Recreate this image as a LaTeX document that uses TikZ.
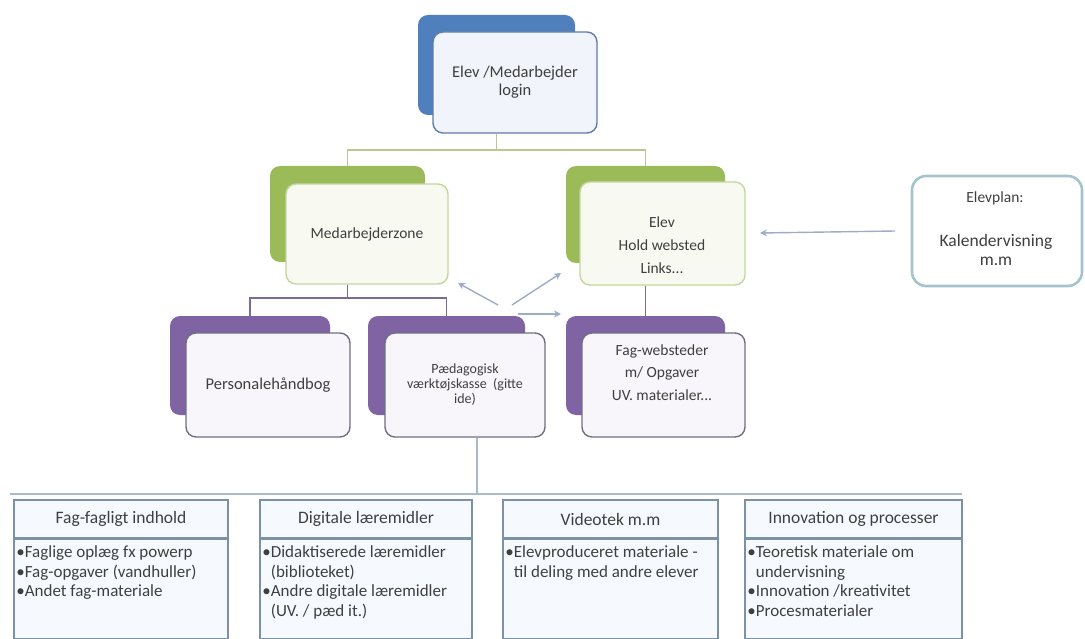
\documentclass[tikz,border=0pt]{standalone}
\usepackage{fontspec}
\setmainfont{Carlito}
\usetikzlibrary{arrows.meta}
\definecolor{txt}{HTML}{3F3F3F}
\definecolor{cblue}{HTML}{4F7FBC}
\definecolor{cgreen}{HTML}{9BBB59}
\definecolor{cpurple}{HTML}{7F63A3}
\definecolor{fblue}{HTML}{F1F4FA}
\definecolor{fgreen}{HTML}{F8FAF2}
\definecolor{fpurple}{HTML}{F9F6FB}
\definecolor{bblue}{HTML}{5E7DA8}
\definecolor{bgreen}{HTML}{C4D6A0}
\definecolor{bpurple}{HTML}{6F6F85}
\definecolor{gline}{HTML}{BBC991}
\definecolor{pline}{HTML}{7A6B98}
\definecolor{aline}{HTML}{9DADC9}
\definecolor{eplan}{HTML}{A3C4CC}
\definecolor{boxb}{HTML}{7C91A6}
\definecolor{boxf}{HTML}{F6FAFE}
\definecolor{hline}{HTML}{A9BACB}
\begin{document}
\begin{tikzpicture}[x=1pt,y=-1pt,
  bk/.style={rounded corners=10pt, inner sep=0pt},
  fr/.style={rounded corners=10pt, line width=1.4pt, inner sep=0pt, align=center, text=txt, font=\fontsize{16.5}{18}\selectfont},
  lbl/.style={align=center, text=txt, inner sep=0pt},
  gconn/.style={draw=gline, line width=1.6pt},
  pconn/.style={draw=pline, line width=1.6pt},
  arr/.style={draw=aline, line width=1.4pt, -{Stealth[length=7pt,width=7pt]}},
  hd/.style={draw=boxb, fill=boxf, line width=1.6pt, inner sep=0pt, text=txt, font=\fontsize{17.5}{18}\selectfont},
  bd/.style={draw=boxb, fill=boxf, line width=1.6pt, inner sep=0pt},
  bl/.style={align=left, text=txt, inner sep=0pt, font=\fontsize{17}{19.5}\selectfont, anchor=north west}
]
\useasboundingbox (0,0) rectangle (1085,639);
\fill[white] (0,0) rectangle (1085,639);

% top login
\node[bk, fill=cblue, minimum width=157, minimum height=100] (loginb) at (496.5,65) {};
\node[fr, draw=bblue, fill=fblue, minimum width=164, minimum height=101] (login) at (515,82.5) {Elev /Medarbejder\\login};

% green level
\node[bk, fill=cgreen, minimum width=155, minimum height=96] (medb) at (347.5,214) {};
\node[fr, draw=bgreen, fill=fgreen, minimum width=162, minimum height=100, font=\fontsize{15.5}{18}\selectfont] (med) at (367,234) {Medarbejderzone};
\node[bk, fill=cgreen, minimum width=159, minimum height=97] (elevb) at (645.5,214.5) {};
\node[fr, draw=bgreen, fill=fgreen, minimum width=165, minimum height=103] (elev) at (662.5,233.5) {};
\node[lbl, font=\fontsize{15.5}{23}\selectfont] (elevt) at (662,245) {Elev\\Hold websted\\Links...};

% purple level
\node[bk, fill=cpurple, minimum width=160, minimum height=99] (persb) at (250,365.5) {};
\node[fr, draw=bpurple, fill=fpurple, minimum width=164, minimum height=104] (pers) at (268,385) {Personalehåndbog};
\node[bk, fill=cpurple, minimum width=157, minimum height=99] (pedb) at (446.5,365.5) {};
\node[fr, draw=bpurple, fill=fpurple, minimum width=160, minimum height=104, font=\fontsize{14}{15}\selectfont] (ped) at (465,385) {Pædagogisk\\værktøjskasse\ \ (gitte\\ide)};
\node[bk, fill=cpurple, minimum width=159, minimum height=99] (fagb) at (645.5,365.5) {};
\node[fr, draw=bpurple, fill=fpurple, minimum width=163, minimum height=104] (fag) at (663.5,385) {};
\node[lbl, font=\fontsize{15.5}{22.5}\selectfont] (fagt) at (662,372.5) {Fag-websteder\\m/ Opgaver\\UV. materialer...};

% elevplan
\node[rounded corners=14pt, draw=eplan, fill=white, line width=2.6pt, minimum width=170, minimum height=110, inner sep=0pt] (plan) at (997,231) {};
\node[lbl, font=\fontsize{15.5}{18}\selectfont] (plant) at (995,198) {Elevplan:};
\node[lbl, font=\fontsize{17.5}{18.5}\selectfont] (plant2) at (996,250) {Kalendervisning\\m.m};

% connectors
\coordinate (gbar) at (496.5,150);
\draw[gconn] (login.south -| loginb.south) -- (gbar);
\draw[gconn] (gbar) -| (medb.north);
\draw[gconn] (gbar) -| (elevb.north);
\coordinate (pbar) at (347.5,298);
\draw[pconn] (med.south -| medb.south) -- (pbar);
\draw[pconn] (pbar) -| (persb.north);
\draw[pconn] (pbar) -| (pedb.north);
\draw[pconn] (elev.south -| elevb.south) -- (fagb.north);

% arrows
\coordinate (a1s) at (498,305); \coordinate (a1e) at (458,283);
\coordinate (a2s) at (512,305); \coordinate (a2e) at (561,273);
\coordinate (a3s) at (518,314); \coordinate (a3e) at (561,314);
\coordinate (a4s) at (895,233); \coordinate (a4e) at (760,233);
\draw[arr] (a1s) -- (a1e);
\draw[arr] (a2s) -- (a2e);
\draw[arr] (a3s) -- (a3e);
\draw[arr] (plan.west -| a4s) -- (a4e);

% bottom bar
\coordinate (bj) at (477,494);
\coordinate (bl) at (10,494);
\coordinate (br) at (962,494);
\draw[draw=hline, line width=1.2pt] (ped.south -| bj) -- (bj);
\draw[draw=hline, line width=1.6pt] (bl) -- (br);

% bottom boxes
\node[hd, minimum width=214, minimum height=38] (h1) at (121,519) {Fag-fagligt indhold};
\node[bd, minimum width=214, minimum height=99, anchor=north] (d1) at (h1.south) {};
\node[bl] (t1) at ([shift={(3,7)}]d1.north west) {•Faglige oplæg fx powerp\\•Fag-opgaver (vandhuller)\\•Andet fag-materiale};

\node[hd, minimum width=212, minimum height=38] (h2) at (366,519) {Digitale læremidler};
\node[bd, minimum width=212, minimum height=99, anchor=north] (d2) at (h2.south) {};
\node[bl] (t2) at ([shift={(3,7)}]d2.north west) {•Didaktiserede læremidler\\\hphantom{•}(biblioteket)\\•Andre digitale læremidler\\\hphantom{•}(UV. / pæd it.)};

\node[hd, minimum width=215, minimum height=38] (h3) at (610.5,519) {Videotek m.m};
\node[bd, minimum width=215, minimum height=99, anchor=north] (d3) at (h3.south) {};
\node[bl] (t3) at ([shift={(3,7)}]d3.north west) {•Elevproduceret materiale -\\\hphantom{•}til deling med andre elever};

\node[hd, minimum width=217, minimum height=38] (h4) at (853.5,519) {Innovation og processer};
\node[bd, minimum width=217, minimum height=99, anchor=north] (d4) at (h4.south) {};
\node[bl] (t4) at ([shift={(3,7)}]d4.north west) {•Teoretisk materiale om\\\hphantom{•}undervisning\\•Innovation /kreativitet\\•Procesmaterialer};
\end{tikzpicture}
\end{document}
